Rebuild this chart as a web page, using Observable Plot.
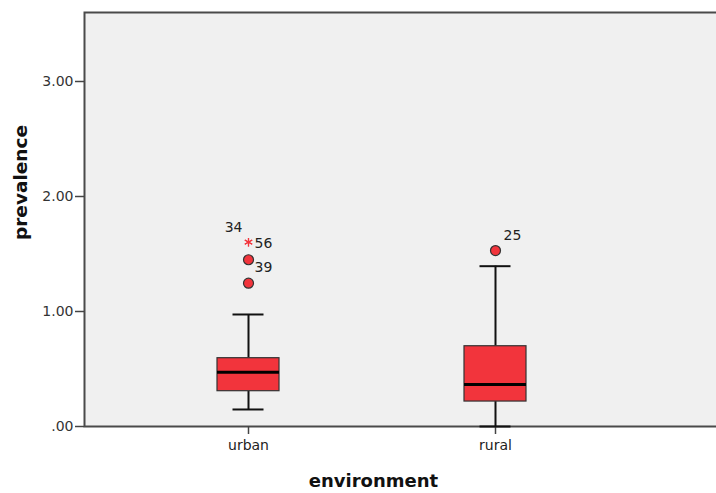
<!DOCTYPE html>
<html>
<head>
<meta charset="utf-8">
<script src="https://cdn.jsdelivr.net/npm/d3@7"></script>
<script src="https://cdn.jsdelivr.net/npm/@observablehq/plot@0.6"></script>
<style>
  html, body { margin: 0; padding: 0; background: #ffffff; overflow: hidden; }
  #chart { width: 716px; height: 493px; overflow: hidden; }
  #chart svg { max-width: none !important; }
</style>
</head>
<body>
<div id="chart"></div>
<script>
// Box-plot summary of prevalence by environment
const categories = ["urban", "rural"];
const lowerWhisker = [0.148, 0.0];
const q1 = [0.307, 0.217];
const median = [0.472, 0.365];
const q3 = [0.594, 0.698];
const upperWhisker = [0.974, 1.394];

// Outliers (circles) and extremes (asterisks), with case ids
const outlierGroup = ["urban", "urban", "rural"];
const outlierValue = [1.246, 1.450, 1.530];
const outlierId = ["", "39", "25"];
const extremeGroup = ["urban", "urban"];
const extremeValue = [1.603, 1.603];
const extremeId = ["56", "34"];

const yTicks = [0, 1, 2, 3];

const boxes = categories.map((c, i) => ({
  env: c, lo: lowerWhisker[i], q1: q1[i], med: median[i], q3: q3[i], hi: upperWhisker[i]
}));
const outliers = outlierGroup.map((g, i) => ({env: g, value: outlierValue[i], id: outlierId[i]}));
const extremes = extremeGroup.map((g, i) => ({env: g, value: extremeValue[i], id: extremeId[i]}));

const red = "#f2343c";
const fmt = d => d === 0 ? ".00" : d.toFixed(2);

const chart = Plot.plot({
  width: 724,
  height: 493,
  marginTop: 12,
  marginBottom: 67,
  marginLeft: 84,
  marginRight: 0,
  style: {fontFamily: "DejaVu Sans, sans-serif", fontSize: "14px", background: "#ffffff", maxWidth: "none"},
  x: {type: "band", domain: categories, range: [217, 526], paddingInner: 0.749, paddingOuter: 0},
  y: {domain: [0, 3.6]},
  marks: [
    Plot.frame({fill: "#f0f0f0", stroke: "#4a4a4a", strokeWidth: 2}),
    Plot.axisY(yTicks, {tickFormat: fmt, tickSize: 9, tickPadding: 2, stroke: "#444", fill: "#333", strokeWidth: 1.5, label: null, fontSize: 14}),
    Plot.axisX({tickSize: 8, tickPadding: 6, stroke: "#444", fill: "#222", strokeWidth: 1.5, label: null, fontSize: 14}),
    // whiskers
    Plot.ruleX(boxes, {x: "env", y1: "lo", y2: "q1", stroke: "#111", strokeWidth: 2}),
    Plot.ruleX(boxes, {x: "env", y1: "q3", y2: "hi", stroke: "#111", strokeWidth: 2}),
    Plot.tickY(boxes, {x: "env", y: "lo", stroke: "#111", strokeWidth: 2, inset: 15.5}),
    Plot.tickY(boxes, {x: "env", y: "hi", stroke: "#111", strokeWidth: 2, inset: 15.5}),
    // boxes and medians
    Plot.barY(boxes, {x: "env", y1: "q1", y2: "q3", fill: red, stroke: "#333", strokeWidth: 1.2}),
    Plot.tickY(boxes, {x: "env", y: "med", stroke: "#000", strokeWidth: 3}),
    // outliers and extremes
    Plot.dot(outliers, {x: "env", y: "value", r: 5, fill: red, stroke: "#333", strokeWidth: 1.2}),
    Plot.dot(extremes, {x: "env", y: "value", symbol: "asterisk", r: 4, stroke: red, strokeWidth: 1.2}),
    Plot.text(extremes.filter(d => d.id === "56"), {x: "env", y: "value", text: "id", textAnchor: "start", dx: 6, dy: 1, fill: "#222", fontSize: 14}),
    Plot.text(extremes.filter(d => d.id === "34"), {x: "env", y: "value", text: "id", textAnchor: "end", dx: -6, dy: -15, fill: "#222", fontSize: 14}),
    Plot.text(outliers.filter(d => d.id === "39"), {x: "env", y: "value", text: "id", textAnchor: "start", dx: 6, dy: 8, fill: "#222", fontSize: 14}),
    Plot.text(outliers.filter(d => d.id === "25"), {x: "env", y: "value", text: "id", textAnchor: "start", dx: 8, dy: -15, fill: "#222", fontSize: 14}),
    // axis titles
    Plot.text(["environment"], {frameAnchor: "bottom-left", text: d => d, dx: 289, dy: 60, fontWeight: "bold", fontSize: 18, fill: "#111", textAnchor: "middle"}),
    Plot.text(["prevalence"], {frameAnchor: "left", text: d => d, dx: -63, dy: -37, rotate: -90, fontWeight: "bold", fontSize: 18.5, fill: "#111", textAnchor: "middle"})
  ]
});
document.getElementById("chart").append(chart);
</script>
</body>
</html>
